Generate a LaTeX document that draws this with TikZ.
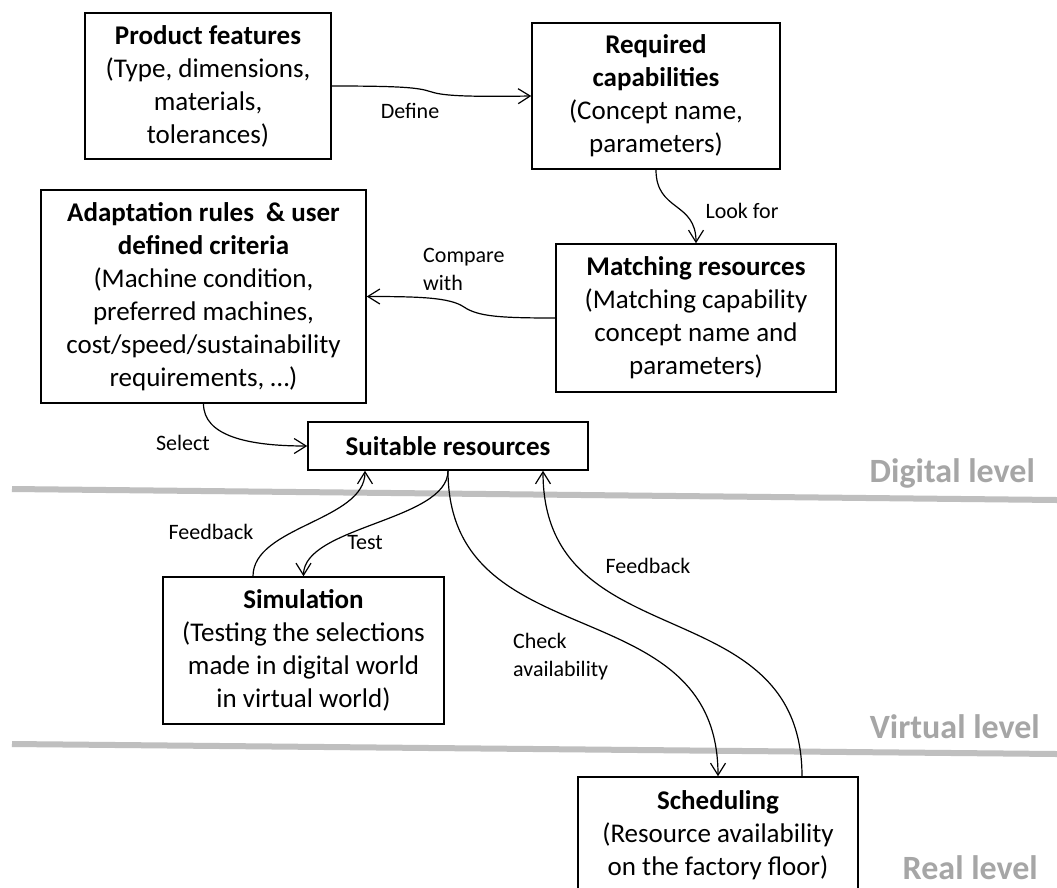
\documentclass[tikz,border=0pt]{standalone}
\usepackage{fontspec}
\setmainfont{Carlito}
\usetikzlibrary{arrows.meta}
\definecolor{lvlgray}{RGB}{166,166,166}
\definecolor{linegray}{RGB}{191,191,191}
\tikzset{
  box/.style={draw, line width=1.5pt, align=center, inner sep=0pt,
    font=\fontsize{27}{33}\selectfont},
  lbl/.style={inner sep=0pt, font=\fontsize{22}{28}\selectfont},
  lvl/.style={inner sep=0pt, anchor=east, text=lvlgray,
    font=\fontsize{34}{40}\selectfont\bfseries},
  conn/.style={line width=1.2pt, -{Straight Barb[length=12pt,width=15pt,line width=1.2pt]}},
  levelline/.style={line width=6pt, draw=linegray},
}
\begin{document}
\begin{tikzpicture}[x=1pt, y=-1pt]
\clip (0,0) rectangle (1057,887);
\fill[white] (0,0) rectangle (1057,887);

% level separators
\draw[levelline] (12,489) -- (1057,500);
\draw[levelline] (12,744) -- (1057,754);

% level labels
\node[lvl] (digital) at (1035,473) {Digital level};
\node[lvl] (virtual) at (1040,727) {Virtual level};
\node[lvl] (real) at (1038,868) {Real level};

% boxes
\node[box, minimum width=246, minimum height=146] (pf) at (208,86)
  {\textbf{Product features}\\(Type, dimensions,\\materials,\\tolerances)};
\node[box, minimum width=248, minimum height=146] (rc) at (656,96)
  {\textbf{Required}\\\textbf{capabilities}\\(Concept name,\\parameters)};
\node[box, minimum width=325, minimum height=213] (ad) at (203.5,296.5)
  {\textbf{Adaptation rules \ \& user}\\\textbf{defined criteria}\\(Machine condition,\\preferred machines,\\cost/speed/sustainability\\requirements, \dots)};
\node[box, minimum width=280, minimum height=148] (mr) at (696,318)
  {\textbf{Matching resources}\\(Matching capability\\concept name and\\parameters)};
\node[box, minimum width=280, minimum height=48] (sr) at (448,446)
  {\textbf{Suitable resources}};
\node[box, minimum width=281, minimum height=147] (sim) at (303.5,650.5)
  {\textbf{Simulation}\\(Testing the selections\\made in digital world\\in virtual world)};
\node[box, minimum width=280, minimum height=116] (sch) at (718,835)
  {\textbf{Scheduling}\\(Resource availability\\on the factory floor)};

% connectors
\draw[conn] (pf.east) .. controls (400,86) and (418,87.5) .. (430,91.5)
  .. controls (442,95.5) and (460,97) .. (rc.west);
\draw[conn] (rc.south) .. controls +(0,42) and +(0,-42) .. (mr.north);
\draw[conn] (mr.west) .. controls (500,318) and (478,316.5) .. (464,307)
  .. controls (450,297.5) and (420,296.5) .. (ad.east);
\draw[conn] (ad.south) .. controls +(0,32) and +(-60,0) .. (sr.west);
\draw[conn] ([xshift=-50.5pt]sim.north) .. controls +(0,-50) and +(0,50) .. ([xshift=-83pt]sr.south);
\draw[conn] (sr.south) .. controls +(0,50) and +(0,-50) .. (sim.north);
\draw[conn] (sr.south) .. controls +(0,190) and +(0,-190) .. (sch.north);
\draw[conn] ([xshift=84pt]sch.north) .. controls +(0,-190) and +(0,190) .. ([xshift=95pt]sr.south);

% connector labels
\node[lbl] (ldefine) at (410,111) {Define};
\node[lbl] (llook) at (742,211) {Look for};
\node[lbl, align=left, anchor=west] (lcompare) at (423,269) {Compare\\with};
\node[lbl] (lselect) at (183,443) {Select};
\node[lbl] (lfb1) at (211,532) {Feedback};
\node[lbl] (ltest) at (365,543) {Test};
\node[lbl, align=left, anchor=west] (lcheck) at (513,657) {Check\\availability};
\node[lbl] (lfb2) at (648,566) {Feedback};
\end{tikzpicture}
\end{document}
